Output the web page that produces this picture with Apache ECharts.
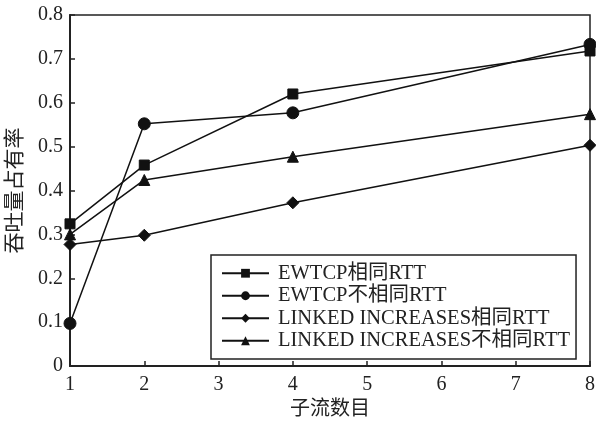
<!DOCTYPE html>
<html><head><meta charset="utf-8">
<script src="https://cdn.jsdelivr.net/npm/echarts@6/dist/echarts.min.js"></script>
<style>html,body{margin:0;padding:0;background:#fff}#c{width:596px;height:425px}</style>
</head><body><div id="c"></div>
<script>
var xValues = [1, 2, 4, 8];
var seriesNames = ['EWTCP相同RTT', 'EWTCP不相同RTT', 'LINKED INCREASES相同RTT', 'LINKED INCREASES不相同RTT'];
var ewtcpSame = [0.324, 0.458, 0.620, 0.718];
var ewtcpDiff = [0.097, 0.552, 0.577, 0.733];
var linkedSame = [0.277, 0.298, 0.372, 0.503];
var linkedDiff = [0.300, 0.424, 0.477, 0.574];
var xAxisName = '子流数目';
var yAxisName = '吞吐量占有率';

var FONT = "'Liberation Serif', 'Noto Sans CJK SC', serif";
var symbols = ['rect', 'circle', 'diamond', 'triangle'];
var sizes = [10, 12, 12, 11];
var allData = [ewtcpSame, ewtcpDiff, linkedSame, linkedDiff];

function pairs(vals) { return xValues.map(function (x, i) { return [x, vals[i]]; }); }

var chart = echarts.init(document.getElementById('c'), null, {renderer: 'canvas'});
chart.setOption({
  animation: false,
  backgroundColor: '#fff',
  grid: {left: 70, right: 6, top: 15, bottom: 59, show: true, borderColor: '#222', borderWidth: 1.5,
    backgroundColor: 'transparent', containLabel: false, outerBoundsMode: 'none'},
  xAxis: {
    type: 'value', min: 1, max: 8, interval: 1,
    name: xAxisName, nameLocation: 'middle', nameGap: 32,
    nameTextStyle: {fontFamily: FONT, fontSize: 20, color: '#222'},
    axisLine: {show: true, lineStyle: {color: '#222', width: 2}},
    axisTick: {show: true, inside: true, length: 5, lineStyle: {color: '#222', width: 1.5}},
    axisLabel: {fontFamily: FONT, fontSize: 20, color: '#222', margin: 9},
    splitLine: {show: false}
  },
  yAxis: {
    type: 'value', min: 0, max: 0.8, interval: 0.1,
    name: yAxisName, nameLocation: 'middle', nameGap: 44, nameRotate: 90,
    nameTextStyle: {fontFamily: FONT, fontSize: 21, color: '#222'},
    axisLine: {show: true, lineStyle: {color: '#222', width: 2}},
    axisTick: {show: true, inside: true, length: 5, lineStyle: {color: '#222', width: 1.5}},
    axisLabel: {fontFamily: FONT, fontSize: 20, color: '#222', margin: 7,
      formatter: function (v) { return v === 0 ? '0' : v.toFixed(1); }},
    splitLine: {show: false}
  },
  legend: {
    orient: 'vertical', left: 211, top: 255,
    padding: [8, 6, 8, 10], itemGap: 2,
    itemWidth: 47, itemHeight: 11,
    borderColor: '#222', borderWidth: 1.5, backgroundColor: '#fff',
    textStyle: {fontFamily: FONT, fontSize: 20.5, color: '#222', padding: [0, 0, 0, 4]},
    data: seriesNames
  },
  series: seriesNames.map(function (n, i) {
    return {
      name: n, type: 'line', data: pairs(allData[i]),
      symbol: symbols[i], symbolSize: sizes[i], showAllSymbol: true,
      lineStyle: {color: '#111', width: 1.5},
      itemStyle: {color: '#111', borderColor: '#111'},
      clip: false
    };
  })
});
</script></body></html>
